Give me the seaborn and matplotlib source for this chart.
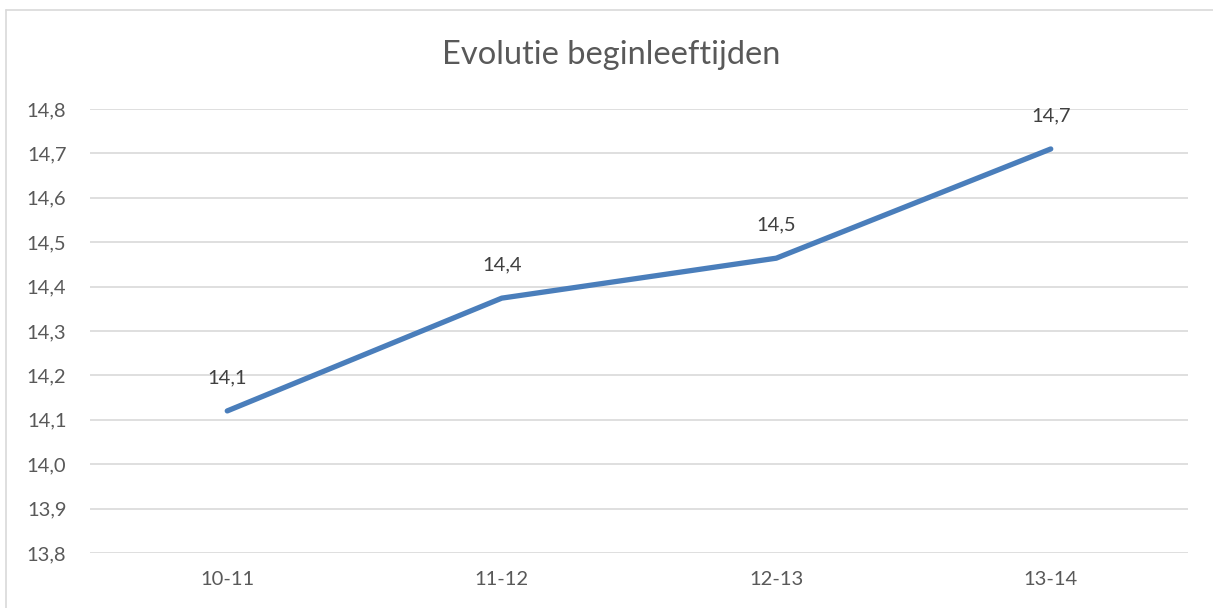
import matplotlib
matplotlib.use("Agg")
import matplotlib.pyplot as plt
import seaborn as sns
import pandas as pd
from matplotlib.lines import Line2D

# Data
seizoenen = ["10-11", "11-12", "12-13", "13-14"]
leeftijden = [14.12, 14.374, 14.464, 14.71]
y_ticks = [13.8, 13.9, 14.0, 14.1, 14.2, 14.3, 14.4, 14.5, 14.6, 14.7, 14.8]

df = pd.DataFrame({"seizoen": seizoenen, "leeftijd": leeftijden})

sns.set_style("white")
plt.rcParams["font.family"] = ["Lato", "DejaVu Sans"]

fig = plt.figure(figsize=(12.13, 6.08), dpi=100)
ax = fig.add_axes([90 / 1213, 1 - 553 / 608, 1098 / 1213, 444 / 608])

sns.lineplot(data=df, x="seizoen", y="leeftijd", ax=ax, color="#4A7EBB",
             linewidth=3.8, sort=False, solid_capstyle="round")

for i, v in enumerate(leeftijden):
    ax.annotate(f"{v:.1f}".replace(".", ","), (i, v), xytext=(0, 24),
                textcoords="offset points", ha="center", va="center",
                fontsize=14.5, color="#404040")

ax.set_xlim(-0.5, 3.5)
ax.set_ylim(13.8, 14.8)
ax.set_yticks(y_ticks)
ax.set_yticklabels([f"{t:.1f}".replace(".", ",") for t in y_ticks])
ax.yaxis.grid(True, color="#D9D9D9", linewidth=1.2)
ax.set_axisbelow(True)
for s in ax.spines.values():
    s.set_visible(False)
ax.tick_params(axis="both", length=0, labelsize=14.5, colors="#595959")
ax.tick_params(axis="x", pad=13)
ax.tick_params(axis="y", pad=17)
ax.set_xlabel("")
ax.set_ylabel("")

fig.text(611 / 1213, 1 - 55 / 608, "Evolutie beginleeftijden", ha="center",
         va="center", fontsize=23.5, color="#595959")

# chart border
fig.add_artist(Line2D([6 / 1213, 1], [1 - 10 / 608, 1 - 10 / 608],
                      transform=fig.transFigure, color="#D9D9D9", linewidth=1.2))
fig.add_artist(Line2D([6 / 1213, 6 / 1213], [0, 1 - 10 / 608],
                      transform=fig.transFigure, color="#D9D9D9", linewidth=1.2))

fig.savefig("out.png", dpi=100)
